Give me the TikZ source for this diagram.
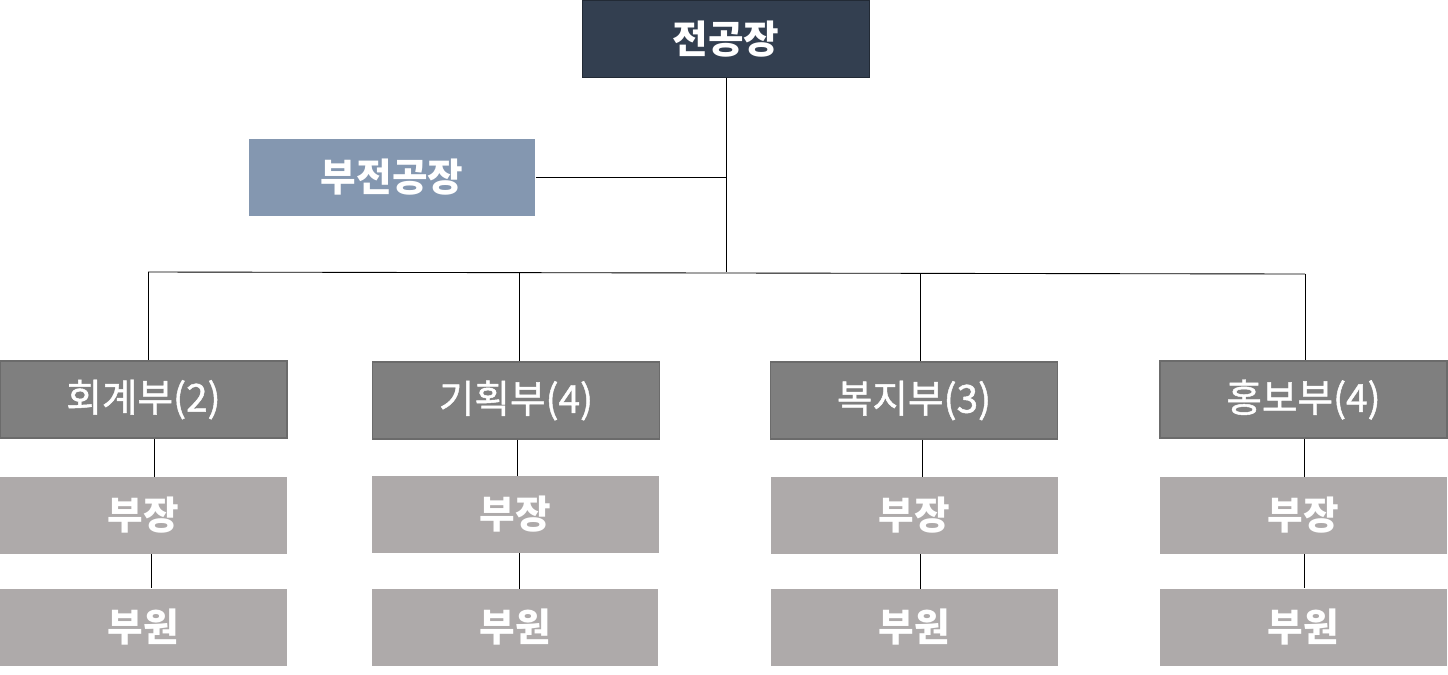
\documentclass[tikz,border=0pt]{standalone}
\usepackage{fontspec}
\setmainfont{Noto Sans CJK KR}
\newfontfamily\deptfont[FakeBold=1.2]{Noto Sans CJK KR}
\definecolor{topfill}{HTML}{333F50}
\definecolor{topdraw}{HTML}{222A35}
\definecolor{subfill}{HTML}{8497B0}
\definecolor{deptfill}{HTML}{7F7F7F}
\definecolor{deptdraw}{HTML}{6B6B6B}
\definecolor{leaffill}{HTML}{AEAAAA}
\begin{document}
\begin{tikzpicture}[x=0.02cm,y=-0.02cm,
  box/.style={rectangle,inner sep=0pt,minimum width=5.74cm,minimum height=1.54cm,text=white,font=\fontsize{22}{26}\selectfont\bfseries},
  topbox/.style={box,fill=topfill,draw=topdraw,line width=0.8pt},
  subbox/.style={box,fill=subfill},
  deptbox/.style={box,fill=deptfill,draw=deptdraw,line width=0.8pt,font=\fontsize{22}{26}\selectfont\deptfont},
  leafbox/.style={box,fill=leaffill},
  link/.style={draw=black,line width=0.5pt}]
\useasboundingbox (0,0) rectangle (1448,674);
\node[topbox] (top) at (726,39) {전공장};
\node[subbox] (sub) at (392,177.5) {부전공장};
\node[deptbox] (d1) at (143.5,399.5) {회계부(2)};
\node[deptbox] (d2) at (516,400.5) {기획부(4)};
\node[deptbox] (d3) at (914,400.5) {복지부(3)};
\node[deptbox] (d4) at (1303.5,399.5) {홍보부(4)};
\node[leafbox] (c1) at (143.5,515.5) {부장};
\node[leafbox] (c2) at (515.5,514.5) {부장};
\node[leafbox] (c3) at (914.5,515.5) {부장};
\node[leafbox] (c4) at (1303.5,515.5) {부장};
\node[leafbox] (m1) at (143.5,627) {부원};
\node[leafbox] (m2) at (515,627.5) {부원};
\node[leafbox] (m3) at (914.5,627.5) {부원};
\node[leafbox] (m4) at (1303.5,627) {부원};
\coordinate (busL) at (148,272);
\coordinate (busR) at (1305,274);
\coordinate (b2) at (519,272.5);
\coordinate (b3) at (920,273.5);
\draw[link] (top.south) -- (top.south |- busL);
\draw[link] (sub.east) -- (sub.east -| top.south);
\draw[link] (busL) -- (busR);
\draw[link] (busL) -- (busL |- d1.north);
\draw[link] (b2) -- (b2 |- d2.north);
\draw[link] (b3) -- (b3 |- d3.north);
\draw[link] (busR) -- (busR |- d4.north);
\draw[link] ([xshift=6.5]d1.south) -- ([xshift=6.5]d1.south |- c1.north);
\draw[link] ([xshift=1]d2.south) -- ([xshift=1]d2.south |- c2.north);
\draw[link] ([xshift=5]d3.south) -- ([xshift=5]d3.south |- c3.north);
\draw[link] ([xshift=0.5]d4.south) -- ([xshift=0.5]d4.south |- c4.north);
\draw[link] ([xshift=4.5]c1.south) -- ([xshift=4.5]c1.south |- m1.north);
\draw[link] ([xshift=2.5]c2.south) -- ([xshift=2.5]c2.south |- m2.north);
\draw[link] ([xshift=3.5]c3.south) -- ([xshift=3.5]c3.south |- m3.north);
\draw[link] ([xshift=0.5]c4.south) -- ([xshift=0.5]c4.south |- m4.north);
\end{tikzpicture}
\end{document}
